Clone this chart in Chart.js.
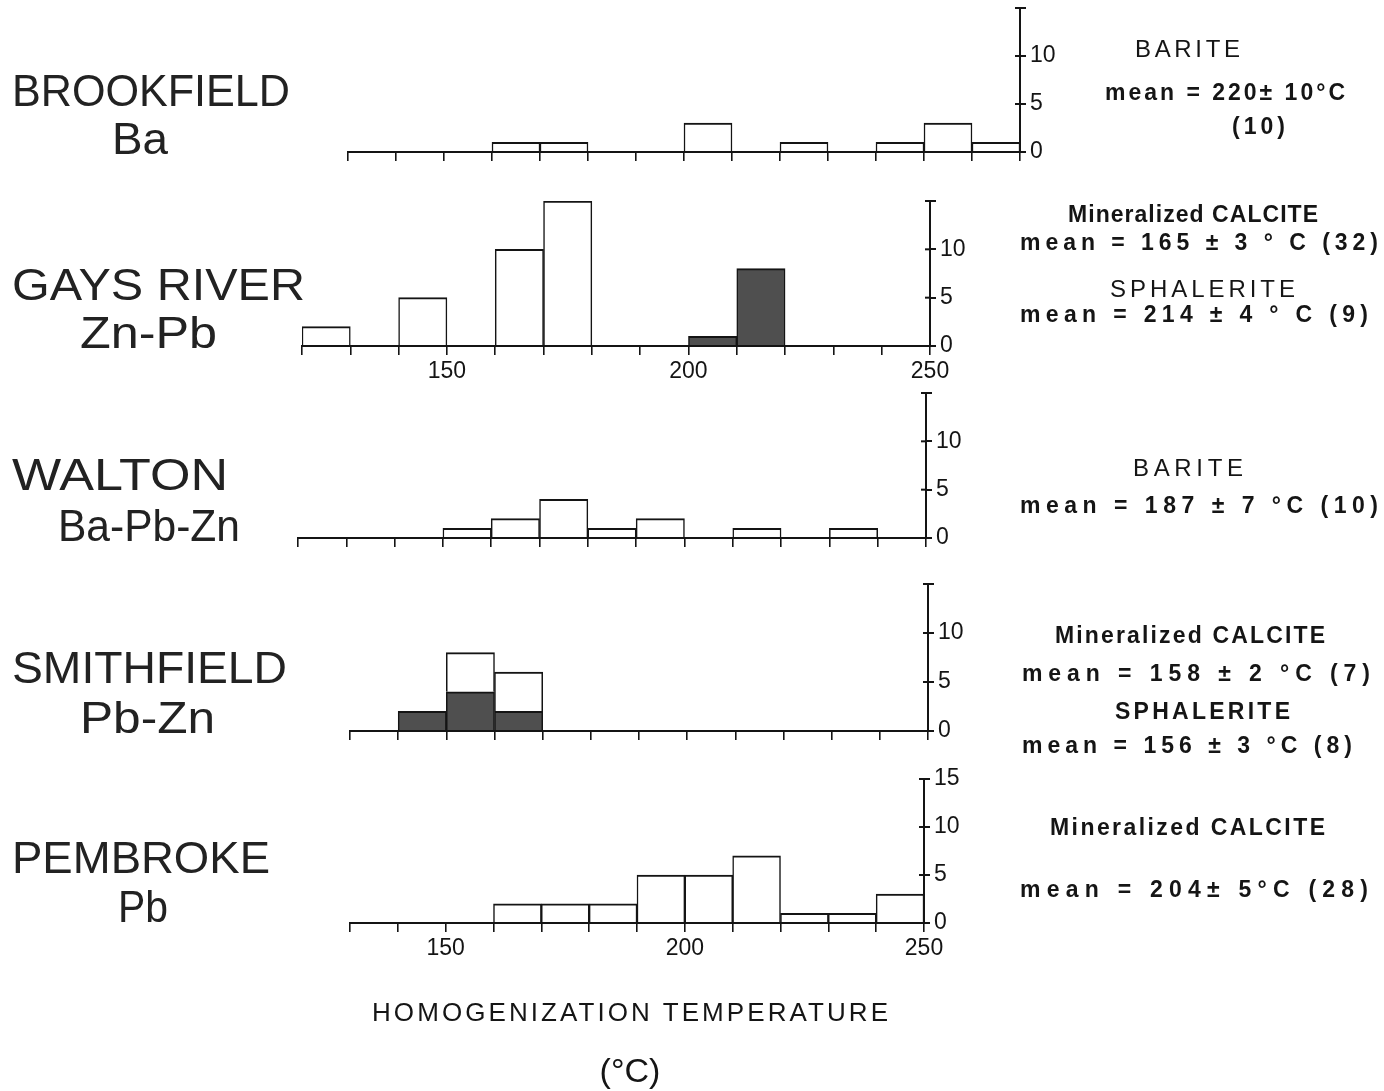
<!DOCTYPE html>
<html>
<head>
<meta charset="utf-8">
<title>Homogenization temperatures</title>
<script src="https://cdn.jsdelivr.net/npm/chart.js@4.4.1/dist/chart.umd.min.js"></script>
<style>
  body { margin: 0; background: #fff; width: 1384px; height: 1091px; position: relative; overflow: hidden; }
  canvas { position: absolute; }
  svg { position: absolute; left: 0; top: 0; }
  .big { font-family: "Liberation Sans", Arial, sans-serif; font-size: 44px; fill: #222; }
  .note { font-family: "Liberation Sans", Arial, sans-serif; font-size: 23px; font-weight: bold; fill: #151515; }
  .caps { font-family: "Liberation Sans", Arial, sans-serif; font-size: 24px; fill: #151515; }
  .axis { font-family: "Liberation Sans", Arial, sans-serif; font-size: 26px; fill: #151515; }
</style>
</head>
<body>
<canvas id="brookfield"></canvas>
<canvas id="gays"></canvas>
<canvas id="walton"></canvas>
<canvas id="smithfield"></canvas>
<canvas id="pembroke"></canvas>

<svg width="1384" height="1091">
  <!-- deposit names -->
  <text class="big" x="12" y="106" textLength="278" lengthAdjust="spacingAndGlyphs">BROOKFIELD</text>
  <text class="big" x="112" y="154" textLength="56" lengthAdjust="spacingAndGlyphs">Ba</text>
  <text class="big" x="12" y="300" textLength="293" lengthAdjust="spacingAndGlyphs">GAYS RIVER</text>
  <text class="big" x="80" y="348" textLength="137" lengthAdjust="spacingAndGlyphs">Zn-Pb</text>
  <text class="big" x="12" y="490" textLength="216" lengthAdjust="spacingAndGlyphs">WALTON</text>
  <text class="big" x="58" y="541" textLength="182" lengthAdjust="spacingAndGlyphs">Ba-Pb-Zn</text>
  <text class="big" x="12" y="683" textLength="275" lengthAdjust="spacingAndGlyphs">SMITHFIELD</text>
  <text class="big" x="80" y="733" textLength="135" lengthAdjust="spacingAndGlyphs">Pb-Zn</text>
  <text class="big" x="12" y="873" textLength="258" lengthAdjust="spacingAndGlyphs">PEMBROKE</text>
  <text class="big" x="118" y="922" textLength="50" lengthAdjust="spacingAndGlyphs">Pb</text>

  <!-- mineral means -->
  <text class="caps" x="1135" y="57" textLength="105" lengthAdjust="spacing">BARITE</text>
  <text class="note" x="1105" y="100" textLength="240" lengthAdjust="spacing">mean = 220± 10°C</text>
  <text class="note" x="1232" y="134" textLength="53" lengthAdjust="spacing">(10)</text>

  <text class="note" x="1068" y="222" textLength="250" lengthAdjust="spacing">Mineralized CALCITE</text>
  <text class="note" x="1020" y="250" textLength="358" lengthAdjust="spacing">mean = 165 ± 3 ° C (32)</text>
  <text class="caps" x="1110" y="297" textLength="185" lengthAdjust="spacing">SPHALERITE</text>
  <text class="note" x="1020" y="322" textLength="348" lengthAdjust="spacing">mean = 214 ± 4 ° C (9)</text>

  <text class="caps" x="1133" y="476" textLength="110" lengthAdjust="spacing">BARITE</text>
  <text class="note" x="1020" y="513" textLength="358" lengthAdjust="spacing">mean = 187 ± 7 °C (10)</text>

  <text class="note" x="1055" y="643" textLength="270" lengthAdjust="spacing">Mineralized CALCITE</text>
  <text class="note" x="1022" y="681" textLength="348" lengthAdjust="spacing">mean = 158 ± 2 °C (7)</text>
  <text class="note" x="1115" y="719" textLength="175" lengthAdjust="spacing">SPHALERITE</text>
  <text class="note" x="1022" y="753" textLength="330" lengthAdjust="spacing">mean = 156 ± 3 °C (8)</text>

  <text class="note" x="1050" y="835" textLength="275" lengthAdjust="spacing">Mineralized CALCITE</text>
  <text class="note" x="1020" y="897" textLength="348" lengthAdjust="spacing">mean = 204± 5°C (28)</text>

  <!-- x axis title -->
  <text class="axis" x="372" y="1021" textLength="516" lengthAdjust="spacing">HOMOGENIZATION TEMPERATURE</text>
  <text class="axis" x="630" y="1082" text-anchor="middle" style="font-size:34px">(°C)</text>
</svg>

<script>
// bin lower edges (°C) and counts per bin, 10 °C wide bins
var brookfieldBins = [160, 170, 200, 220, 240, 250, 260];
var brookfieldBarite = [1, 1, 3, 1, 1, 3, 1];

var gaysCalciteBins = [120, 140, 160, 170];
var gaysCalcite = [2, 5, 10, 15];
var gaysSphaleriteBins = [200, 210];
var gaysSphalerite = [1, 8];

var waltonBins = [150, 160, 170, 180, 190, 210, 230];
var waltonBarite = [1, 2, 4, 1, 2, 1, 1];

var smithSphaleriteBins = [140, 150, 160];
var smithSphalerite = [2, 4, 2];
var smithCalciteBins = [150, 160];
var smithCalcite = [4, 4];

var pembrokeBins = [160, 170, 180, 190, 200, 210, 220, 230, 240];
var pembrokeCalcite = [2, 2, 2, 5, 5, 7, 1, 1, 3];

var binWidth = 10;
var countTicks = [0, 5, 10, 15];
var tempLabels = [150, 200, 250];

var ink = "#141414";
var shade = "#4f4f4f";

function toPoints(bins, counts) {
  var pts = [];
  for (var i in bins) {
    pts.push({ x: bins[i] + binWidth / 2, y: counts[i] });
  }
  return pts;
}

function barSet(label, bins, counts, fill) {
  return {
    label: label,
    data: toPoints(bins, counts),
    backgroundColor: fill,
    borderColor: ink,
    borderWidth: { top: 2, left: 1.5, right: 1.5, bottom: 0 },
    barPercentage: 1,
    categoryPercentage: 1
  };
}

// short inner stubs so the count ticks cross the axis
var crossTicks = {
  id: "crossTicks",
  afterDraw: function(chart) {
    var y = chart.scales.y;
    var ctx = chart.ctx;
    ctx.save();
    ctx.strokeStyle = ink;
    ctx.lineWidth = 2;
    for (var i = 0; i < y.ticks.length; i++) {
      var py = y.getPixelForTick(i);
      ctx.beginPath();
      ctx.moveTo(y.left - 5, py);
      ctx.lineTo(y.left, py);
      ctx.stroke();
    }
    ctx.restore();
  }
};

var padL = 20, padT = 16, axisW = 48, axisH = 42;

function drawPanel(id, box, datasets, xmin, xmax, showTemps, show15) {
  var canvas = document.getElementById(id);
  var top = box.base - 15 * box.unit;
  canvas.width = (box.right - box.left) + padL + axisW;
  canvas.height = (box.base - top) + padT + axisH;
  canvas.style.left = (box.left - padL) + "px";
  canvas.style.top = (top - padT) + "px";

  new Chart(canvas, {
    type: "bar",
    data: { datasets: datasets },
    plugins: [crossTicks],
    options: {
      responsive: false,
      animation: false,
      events: [],
      layout: { padding: { left: padL, top: padT, right: 0, bottom: 0 } },
      plugins: { legend: { display: false }, tooltip: { enabled: false } },
      scales: {
        x: {
          type: "linear",
          stacked: true,
          offset: false,
          min: xmin,
          max: xmax,
          grid: { offset: false, drawOnChartArea: false, tickLength: 9, color: ink, lineWidth: 1.6 },
          border: { display: true, color: ink, width: 2 },
          ticks: {
            stepSize: binWidth,
            autoSkip: false,
            maxRotation: 0,
            padding: 3,
            color: ink,
            font: { family: "Liberation Sans", size: 23 },
            callback: function(v) {
              return showTemps && tempLabels.indexOf(v) >= 0 ? String(v) : "";
            }
          },
          afterFit: function(s) { s.height = axisH; s.paddingLeft = 0; s.paddingRight = 0; }
        },
        y: {
          position: "right",
          stacked: true,
          min: 0,
          max: 15,
          grid: { drawOnChartArea: false, tickLength: 6, color: ink, lineWidth: 2 },
          border: { display: true, color: ink, width: 2 },
          ticks: {
            stepSize: 5,
            padding: 4,
            color: ink,
            font: { family: "Liberation Sans", size: 23 },
            callback: function(v) {
              if (countTicks.indexOf(v) < 0) return "";
              if (v === 15 && !show15) return "";
              return String(v);
            }
          },
          afterFit: function(s) { s.width = axisW; s.paddingTop = 0; s.paddingBottom = 0; }
        }
      }
    }
  });
}

drawPanel("brookfield", { left: 348, right: 1020, base: 152, unit: 9.6 },
  [barSet("Barite", brookfieldBins, brookfieldBarite, "#fff")], 130, 270, false, false);

drawPanel("gays", { left: 302, right: 930, base: 346, unit: 9.7 },
  [barSet("Mineralized calcite", gaysCalciteBins, gaysCalcite, "#fff"),
   barSet("Sphalerite", gaysSphaleriteBins, gaysSphalerite, shade)], 120, 250, true, false);

drawPanel("walton", { left: 298, right: 926, base: 538, unit: 9.7 },
  [barSet("Barite", waltonBins, waltonBarite, "#fff")], 120, 250, false, false);

drawPanel("smithfield", { left: 350, right: 928, base: 731, unit: 9.8 },
  [barSet("Sphalerite", smithSphaleriteBins, smithSphalerite, shade),
   barSet("Mineralized calcite", smithCalciteBins, smithCalcite, "#fff")], 130, 250, false, false);

drawPanel("pembroke", { left: 350, right: 924, base: 923, unit: 9.6 },
  [barSet("Mineralized calcite", pembrokeBins, pembrokeCalcite, "#fff")], 130, 250, true, true);
</script>
</body>
</html>
